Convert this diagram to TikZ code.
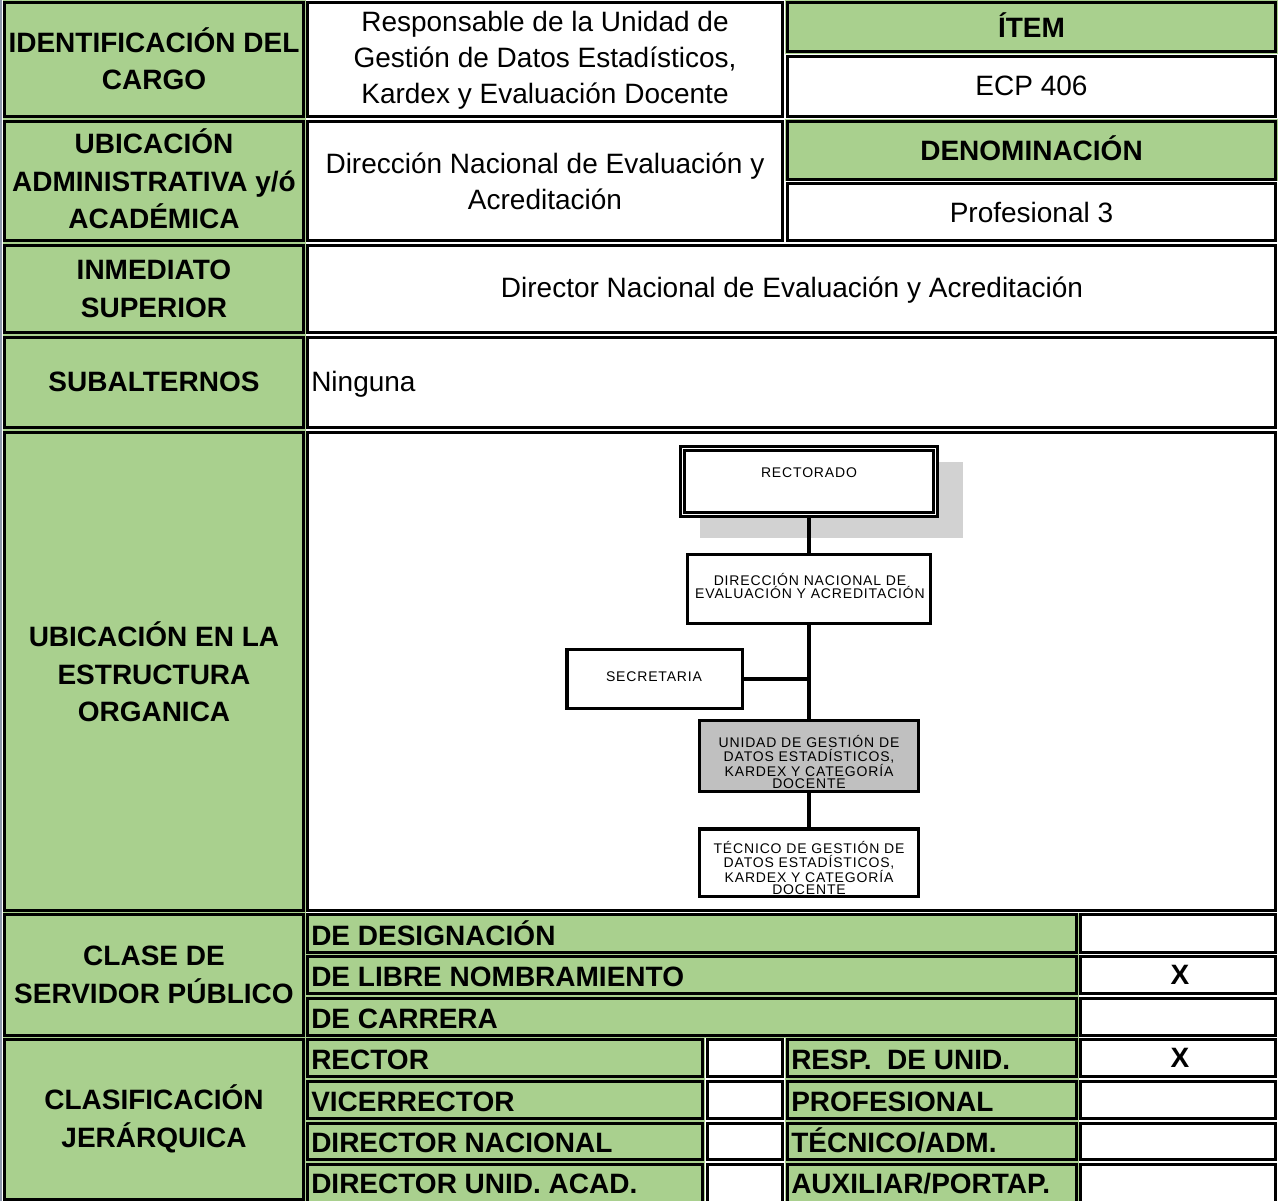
\documentclass[tikz,border=0pt]{standalone}
\usepackage{fontspec}
\setmainfont{Liberation Sans}
\newfontfamily\orgfont[LetterSpace=6]{Liberation Sans}
\usetikzlibrary{calc}

\definecolor{cellgreen}{RGB}{169,208,142}
\definecolor{shadowgray}{RGB}{210,210,210}
\definecolor{unitgray}{RGB}{192,192,192}
\definecolor{edgeblue}{RGB}{140,150,170}

\tikzset{
  cellrule/.style={line width=2.6pt},
  greencell/.style={fill=cellgreen},
  whitecell/.style={fill=white},
  head/.style={font=\fontsize{21}{28}\selectfont\bfseries, align=center, inner sep=0pt},
  body/.style={font=\fontsize{21}{27}\selectfont, align=center, inner sep=0pt},
  rowlab/.style={font=\fontsize{21}{28}\selectfont\bfseries, anchor=base west, inner sep=0pt},
  orgbox/.style={draw, line width=2.6pt, fill=white, inner sep=0pt},
  orgtext/.style={font=\orgfont\fontsize{10.5}{9.2}\selectfont, align=center, inner sep=0pt},
  orgline/.style={line width=3.2pt},
}

% one table cell: full fill, border set slightly inside its edges
\newcommand\tabcell[5]{%
  \fill[#5] (#1,#2) rectangle (#3,#4);
  \draw[cellrule] ($(#1,#2)+(2.25,2.25)$) rectangle ($(#3,#4)-(2.25,2.25)$);
}

\begin{document}
\begin{tikzpicture}[x=0.75pt,y=-0.75pt]
\useasboundingbox (0,0) rectangle (1278,1201);
\clip (0,0) rectangle (1278,1201);
\fill[white] (0,0) rectangle (1278,1201);
\fill[edgeblue] (0,0) rectangle (2,1201);

% --- header rows ---
\tabcell{2.5}{0}{305.5}{119}{greencell}
\tabcell{305.5}{0}{785}{119}{whitecell}
\tabcell{785}{0}{1278}{54}{greencell}
\tabcell{785}{54}{1278}{119}{whitecell}

\tabcell{2.5}{119}{305.5}{243}{greencell}
\tabcell{305.5}{119}{785}{243}{whitecell}
\tabcell{785}{119}{1278}{181.5}{greencell}
\tabcell{785}{181.5}{1278}{243}{whitecell}

\tabcell{2.5}{243}{305.5}{335}{greencell}
\tabcell{305.5}{243}{1278}{335}{whitecell}

\tabcell{2.5}{335}{305.5}{430}{greencell}
\tabcell{305.5}{335}{1278}{430}{whitecell}

\tabcell{2.5}{430}{305.5}{912.5}{greencell}
\tabcell{305.5}{430}{1278}{912.5}{whitecell}

% --- clase de servidor publico ---
\tabcell{2.5}{912.5}{305.5}{1037.5}{greencell}
\foreach \ya/\yb in {912.5/954.5, 954.5/996, 996/1037.5}{
  \tabcell{305.5}{\ya}{1078.5}{\yb}{greencell}
  \tabcell{1078.5}{\ya}{1278}{\yb}{whitecell}
}

% --- clasificacion jerarquica ---
\tabcell{2.5}{1037.5}{305.5}{1201.5}{greencell}
\foreach \ya/\yb in {1037.5/1079, 1079/1121, 1121/1162, 1162/1205}{
  \tabcell{305.5}{\ya}{705}{\yb}{greencell}
  \tabcell{705}{\ya}{785}{\yb}{whitecell}
  \tabcell{785}{\ya}{1078.5}{\yb}{greencell}
  \tabcell{1078.5}{\ya}{1278}{\yb}{whitecell}
}

% --- table texts ---
\node[head] (idcargo) at (154,59) {IDENTIFICACIÓN DEL\\CARGO};
\node[body] (cargo) at (545,60) {Responsable de la Unidad de\\Gestión de Datos Estadísticos,\\Kardex y Evaluación Docente};
\node[head] (item) at (1031.5,25) {ÍTEM};
\node[body] (ecp) at (1031.5,86) {ECP 406};

\node[head] (ubicadm) at (154,179) {UBICACIÓN\\ADMINISTRATIVA y/ó\\ACADÉMICA};
\node[body] (direccion) at (545,181) {Dirección Nacional de Evaluación y\\Acreditación};
\node[head] (denom) at (1031.5,148) {DENOMINACIÓN};
\node[body] (prof) at (1031.5,212) {Profesional 3};

\node[head] (inmed) at (154,289) {INMEDIATO\\SUPERIOR};
\node[body] (director) at (792,290) {Director Nacional de Evaluación y Acreditación};

\node[head] (subalt) at (154,382) {SUBALTERNOS};
\node[body, anchor=west] (ninguna) at (311,384) {Ninguna};

\node[head] (ubicest) at (154,672) {UBICACIÓN EN LA\\ESTRUCTURA\\ORGANICA};

\node[head] (clase) at (154,975) {CLASE DE\\SERVIDOR PÚBLICO};
\node[rowlab] (designa) at (311,945) {DE DESIGNACIÓN};
\node[rowlab] (libre) at (311,986) {DE LIBRE NOMBRAMIENTO};
\node[rowlab] (carrera) at (311,1028) {DE CARRERA};
\node[head] (xlibre) at (1180,975) {X};

\node[head] (clasif) at (154,1119) {CLASIFICACIÓN\\JERÁRQUICA};
\node[rowlab] (rector) at (311,1069) {RECTOR};
\node[rowlab] (vice) at (311,1111) {VICERRECTOR};
\node[rowlab] (dirnal) at (311,1152) {DIRECTOR NACIONAL};
\node[rowlab] (dirua) at (311,1193) {DIRECTOR UNID. ACAD.};
\node[rowlab] (resp) at (791,1069) {RESP.\ \ DE UNID.};
\node[rowlab] (profes) at (791,1111) {PROFESIONAL};
\node[rowlab] (tecadm) at (791,1152) {TÉCNICO/ADM.};
\node[rowlab] (auxil) at (791,1193) {AUXILIAR/PORTAP.};
\node[head] (xresp) at (1180,1058) {X};

% --- organisation chart ---
\fill[shadowgray] (700,462) rectangle (963,538);
\node[orgbox, double, double distance=1.1pt, line width=2.1pt,
      minimum width=190pt, minimum height=49.6pt] (rect) at (809,481.5) {};
\node[orgbox, minimum width=181.9pt, minimum height=51.4pt] (dir) at (809,589) {};
\node[orgbox, minimum width=131.6pt, minimum height=43.9pt] (sec) at (654.5,679) {};
\node[orgbox, fill=unitgray, minimum width=164.6pt, minimum height=52.9pt] (uni) at (809,756) {};
\node[orgbox, minimum width=164.6pt, minimum height=50.6pt] (tec) at (809,862.5) {};

\draw[orgline] (rect.south) -- (dir.north);
\draw[orgline] (dir.south) -- (uni.north);
\coordinate (tee) at (dir.south |- sec.east);
\draw[orgline] (sec.east) -- (tee);
\draw[orgline] (uni.south) -- (tec.north);

\node[orgtext] (recttxt) at (809,473) {RECTORADO};
\node[orgtext] (dirtxt) at (810,586) {DIRECCIÓN NACIONAL DE\\EVALUACIÓN Y ACREDITACIÓN};
\node[orgtext] (sectxt) at (654,677) {SECRETARIA};
\node[orgtext] (unitxt) at (809,762) {UNIDAD DE GESTIÓN DE\\DATOS ESTADÍSTICOS,\\KARDEX Y CATEGORÍA\\DOCENTE};
\node[orgtext] (tectxt) at (809,868) {TÉCNICO DE GESTIÓN DE\\DATOS ESTADÍSTICOS,\\KARDEX Y CATEGORÍA\\DOCENTE};
\end{tikzpicture}
\end{document}
